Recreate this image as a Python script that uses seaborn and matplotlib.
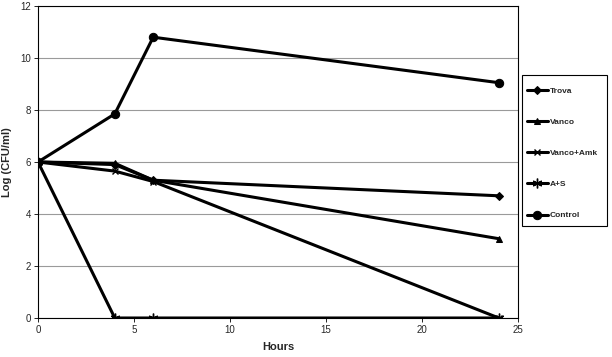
import matplotlib
matplotlib.use("Agg")
import matplotlib.pyplot as plt
from matplotlib.patches import Rectangle
import seaborn as sns
import pandas as pd

hours = [0, 4, 6, 24]
trova = [6.0, 5.9, 5.3, 4.7]
vanco = [6.0, 5.95, 5.3, 3.05]
vanco_amk = [6.0, 5.65, 5.25, 0.0]
a_s = [6.0, 0.0, 0.0, 0.0]
control = [6.0, 7.85, 10.8, 9.05]

series_names = ["Trova", "Vanco", "Vanco+Amk", "A+S", "Control"]
series_values = [trova, vanco, vanco_amk, a_s, control]

x_ticks = [0, 5, 10, 15, 20, 25]
y_ticks = [0, 2, 4, 6, 8, 10, 12]

sns.set_theme(style="white")
plt.rcParams["font.family"] = ["Liberation Sans", "DejaVu Sans"]

markers = {
    "Trova": dict(marker="D", markersize=4.5),
    "Vanco": dict(marker="^", markersize=4.5),
    "Vanco+Amk": dict(marker="x", markersize=5, markeredgewidth=1.0),
    "A+S": dict(marker=(6, 2, 0), markersize=7, markeredgewidth=1.0),
    "Control": dict(marker="o", markersize=6),
}

W, H = 612, 357
fig = plt.figure(figsize=(W / 100, H / 100), dpi=100)
ax = fig.add_axes([38 / W, 1 - 318 / H, (518 - 38) / W, (318 - 6) / H])

for name, vals in zip(series_names, series_values):
    df = pd.DataFrame({"Hours": hours, "val": vals})
    sns.lineplot(data=df, x="Hours", y="val", ax=ax, color="black",
                 linewidth=2.2, label=name, markeredgecolor="black",
                 markerfacecolor="black", **markers[name])

ax.set_xlim(0, 25)
ax.set_ylim(0, 12)
ax.set_xticks(x_ticks)
ax.set_yticks(y_ticks)
ax.yaxis.grid(True, color="#9a9a9a", linewidth=0.8)
ax.xaxis.grid(False)
for s in ax.spines.values():
    s.set_color("black")
    s.set_linewidth(0.8)
ax.tick_params(axis="both", labelsize=7, length=3, width=0.6, color="black",
               direction="out", bottom=True, left=True, pad=2)
ax.set_xlabel("Hours", fontsize=8, fontweight="bold", labelpad=5)
ax.set_ylabel("Log (CFU/ml)", fontsize=8, fontweight="bold", labelpad=6)

ax.get_legend().remove()
handles, labels = ax.get_legend_handles_labels()

# legend frame
fig.add_artist(Rectangle((522 / W, 1 - 226 / H), 85 / W, 151 / H,
                         transform=fig.transFigure, facecolor="white",
                         edgecolor="black", linewidth=0.8, zorder=1))
leg = fig.legend(handles, labels, loc="upper left",
                 bbox_to_anchor=(527 / W, 1 - 87 / H),
                 prop={"weight": "bold", "size": 6},
                 frameon=False, labelspacing=2.8, handlelength=2.5,
                 handletextpad=0.2, borderpad=0, borderaxespad=0)
leg.set_zorder(2)

fig.savefig("out.png", dpi=100)
